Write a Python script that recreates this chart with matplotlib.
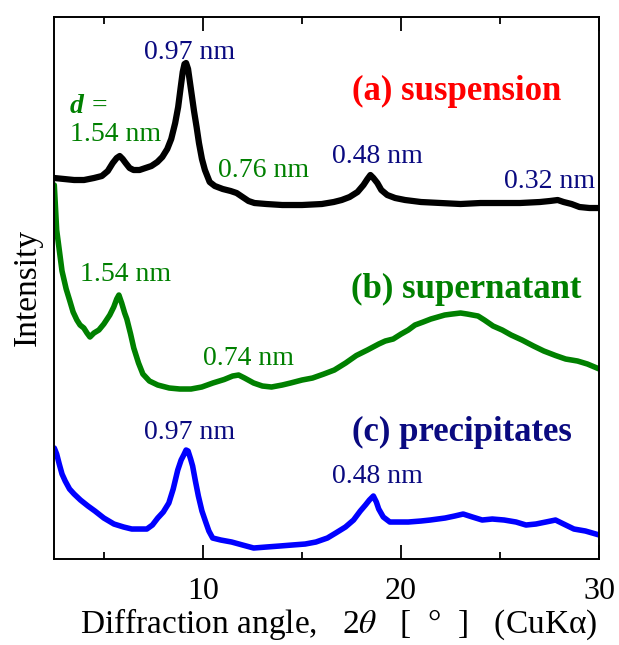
import matplotlib
matplotlib.use("Agg")
import matplotlib.pyplot as plt
from matplotlib.ticker import MultipleLocator

plt.rcParams['font.family'] = ['Liberation Serif', 'DejaVu Serif']
plt.rcParams['mathtext.fontset'] = 'stix'

# (a) suspension (black), intensity in arbitrary units (offset included)
a_x = [2.5, 3.0, 3.5, 4.0, 4.5, 4.9, 5.2, 5.45, 5.65, 5.8, 5.95, 6.1, 6.3, 6.5, 6.8,
       7.1, 7.4, 7.7, 7.95, 8.2, 8.4, 8.6, 8.75, 8.88, 8.98, 9.07, 9.15, 9.25, 9.35,
       9.45, 9.55, 9.68, 9.8, 9.95, 10.1, 10.34, 10.6, 11.0, 11.4, 11.7, 12.0, 12.3,
       12.6, 13.2, 14.0, 15.0, 16.0, 16.6, 17.0, 17.4, 17.8, 18.1, 18.3, 18.45, 18.6,
       18.8, 19.0, 19.3, 19.7, 20.2, 21.0, 22.0, 23.0, 24.0, 25.0, 26.0, 27.0, 27.5,
       27.9, 28.2, 28.6, 29.0, 29.5, 30.0]
a_y = [381, 380, 379, 379, 381, 383, 388, 396, 401, 403, 400, 396, 391, 389, 389,
       391, 393, 397, 402, 410, 420, 436, 452, 472, 487, 495, 496, 490, 476,
       462, 448, 432, 416, 400, 389, 377, 373, 370, 368, 366, 362, 358,
       356, 355, 354, 354, 355, 357, 359, 362, 367, 374, 380, 384, 381,
       376, 369, 364, 361, 359, 357, 356, 355, 356, 356, 356, 357, 358,
       359, 357, 355, 352, 351, 351]

# (b) supernatant (green)
b_x = [2.5, 2.62, 2.89, 3.1, 3.27, 3.45, 3.64, 3.8, 3.99, 4.15, 4.30, 4.5, 4.75, 5.0,
       5.30, 5.5, 5.65, 5.76, 5.9, 6.05, 6.16, 6.35, 6.51, 6.75, 6.97, 7.3, 7.72,
       8.3, 8.83, 9.4, 9.94, 10.5, 11.07, 11.5, 11.8, 12.1, 12.56, 13.0, 13.46, 14.0,
       14.42, 15.0, 15.53, 16.1, 16.63, 17.2, 17.74, 18.3, 18.87, 19.2, 19.6, 20.0,
       20.36, 20.7, 21.11, 21.5, 21.85, 22.2, 22.58, 23.0, 23.33, 23.6, 23.88, 24.2,
       24.64, 25.1, 25.55, 26.1, 26.68, 27.2, 27.79, 28.3, 28.9, 29.4, 30.0]
b_y = [374, 329, 288, 270, 259, 247, 239, 234, 231, 226, 222, 226, 229, 235,
       244, 252, 260, 264, 256, 246, 240, 225, 211, 196, 185, 178, 174,
       171, 170, 170, 172, 176, 179.5, 183, 184, 181, 176, 173, 172, 174,
       176, 179, 181, 185, 189, 196, 203.5, 209, 215, 218, 220, 225,
       229, 234, 237, 240, 242, 244, 245, 246, 245, 244, 243, 239,
       233, 229, 224, 219, 213, 208, 203.5, 200, 198, 195, 190]

# (c) precipitates (blue)
c_x = [2.5, 2.62, 2.75, 2.89, 3.05, 3.27, 3.5, 3.82, 4.2, 4.55, 5.0, 5.51, 6.0, 6.41,
       6.8, 7.17, 7.45, 7.72, 8.0, 8.28, 8.5, 8.73, 8.9, 9.03, 9.15, 9.25, 9.38, 9.48,
       9.62, 9.77, 9.95, 10.14, 10.3, 10.49, 10.9, 11.45, 12.0, 12.56, 13.2, 13.87,
       14.5, 15.16, 15.7, 16.28, 16.7, 17.19, 17.6, 17.94, 18.2, 18.4, 18.6, 18.75,
       18.87, 19.1, 19.43, 19.9, 20.36, 21.0, 21.47, 22.22, 22.7, 23.13, 23.6, 24.09,
       24.6, 25.2, 25.8, 26.3, 26.8, 27.3, 27.79, 28.2, 28.72, 29.3, 30.0]
c_y = [111, 105, 95, 85, 78, 70, 65, 59, 53, 48, 41, 35, 32, 30,
       30, 30, 34, 41, 47, 56, 70, 89, 99, 104, 109, 108, 100, 93,
       78, 63, 48, 37, 28, 21, 19, 17, 14, 11, 12, 13,
       14, 15, 17, 21, 26, 32, 39, 48, 54, 59, 63, 57,
       50, 42, 37, 37, 37, 38, 39, 41, 43, 45, 42, 39,
       40, 39, 37, 34, 35, 37, 39, 35, 30, 28, 24]

x_ticks = [10, 20, 30]

navy = '#0a0a80'
green = '#008000'

fig = plt.figure(figsize=(6.19, 6.45), dpi=100)
ax = fig.add_axes([0.0877, 0.1333, 0.8805, 0.8408])

ax.plot(a_x, a_y, color='black', lw=4.5, solid_joinstyle='round', solid_capstyle='round')
ax.plot(b_x, b_y, color='#008000', lw=4.0, solid_joinstyle='round', solid_capstyle='round')
ax.plot(c_x, c_y, color='#0000ff', lw=4.0, solid_joinstyle='round', solid_capstyle='round')

ax.set_xlim(2.5, 30)
ax.set_ylim(0, 542.3)
ax.set_xticks(x_ticks)
ax.xaxis.set_minor_locator(MultipleLocator(5))
ax.set_yticks([])
ax.tick_params(axis='x', which='both', direction='in', top=True, width=1.3)
ax.tick_params(axis='x', which='major', length=10, labelsize=23, pad=13)
ax.tick_params(axis='x', which='minor', length=5)
for s in ax.spines.values():
    s.set_linewidth(1.4)

ax.set_xlabel('Diffraction angle,   2$\\theta$   [  °  ]   (CuKα)', fontsize=24, labelpad=0)
ax.xaxis.label.set_x(0.5 + 12 / 545)
ax.set_ylabel('Intensity', fontsize=24, labelpad=8)

fs = 20
bfs = 25
# (a)
ax.text(9.33, 500, '0.97 nm', color=navy, fontsize=fs, ha='center', va='baseline')
ax.text(3.29, 446, 'd', color=green, fontsize=fs, ha='left', va='baseline',
        fontweight='bold', fontstyle='italic')
ax.text(4.05, 446, ' =', color=green, fontsize=fs, ha='left', va='baseline')
ax.text(5.61, 418, '1.54 nm', color=green, fontsize=fs, ha='center', va='baseline')
ax.text(13.06, 382, '0.76 nm', color=green, fontsize=fs, ha='center', va='baseline')
ax.text(18.79, 396, '0.48 nm', color=navy, fontsize=fs, ha='center', va='baseline')
ax.text(29.78, 371, '0.32 nm', color=navy, fontsize=fs, ha='right', va='baseline')
ax.text(22.78, 459, '(a) suspension', color='#ff0000', fontsize=bfs, fontweight='bold',
        ha='center', va='baseline')
# (b)
ax.text(23.28, 261, '(b) supernatant', color=green, fontsize=bfs, fontweight='bold',
        ha='center', va='baseline')
ax.text(6.12, 278, '1.54 nm', color=green, fontsize=fs, ha='center', va='baseline')
ax.text(12.28, 194.5, '0.74 nm', color=green, fontsize=fs, ha='center', va='baseline')
# (c)
ax.text(23.08, 118, '(c) precipitates', color=navy, fontsize=bfs, fontweight='bold',
        ha='center', va='baseline')
ax.text(9.32, 120.5, '0.97 nm', color=navy, fontsize=fs, ha='center', va='baseline')
ax.text(18.83, 76, '0.48 nm', color=navy, fontsize=fs, ha='center', va='baseline')

fig.savefig('out.png', dpi=100)
